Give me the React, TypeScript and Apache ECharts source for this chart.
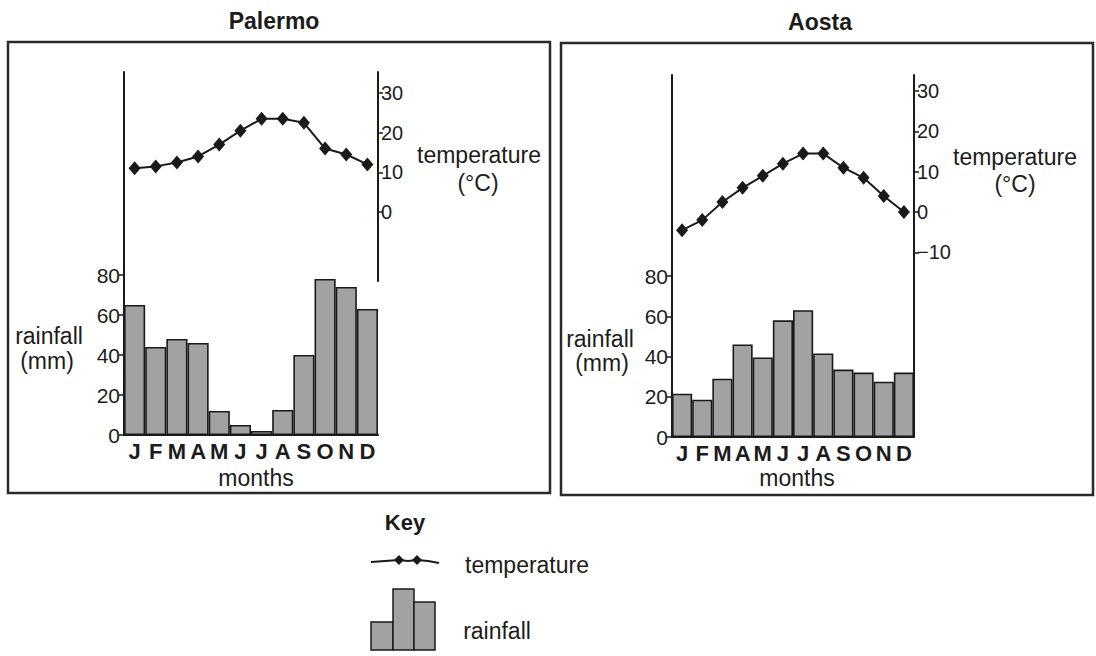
import React, { useEffect, useRef } from "react";
import * as echarts from "echarts";

const months = ["J", "F", "M", "A", "M", "J", "J", "A", "S", "O", "N", "D"];
const palermoRain = [65, 44, 48, 46, 12, 5, 2, 12.5, 40, 78, 74, 63];
const palermoTemp = [11, 11.5, 12.5, 14, 17, 20.5, 23.5, 23.5, 22.5, 16, 14.5, 12];
const aostaRain = [21.5, 18.5, 29, 46, 39.5, 58, 63, 41.5, 33.5, 32, 27.5, 32];
const aostaTemp = [-4.5, -2, 2.5, 6, 9, 12, 14.5, 14.5, 11, 8.5, 4, 0];
const rainTicks = [0, 20, 40, 60, 80];
const palermoTempTicks = [0, 10, 20, 30];
const aostaTempTicks = [-10, 0, 10, 20, 30];

const FONT = "'Liberation Sans', Arial, Helvetica, sans-serif";
const INK = "#1a1a1a";
const TEXT = "#1c1c1c";
const BAR = "#a2a2a2";

function rainY(gridIndex: number, max: number) {
  return {
    gridIndex,
    type: "value",
    position: "left",
    min: 0,
    max,
    axisLine: { show: true, lineStyle: { color: INK, width: 2 } },
    axisTick: { show: true, length: 5, customValues: rainTicks, lineStyle: { color: INK, width: 1.5 } },
    axisLabel: { customValues: rainTicks, fontSize: 21, color: TEXT, margin: 4, fontFamily: FONT },
    splitLine: { show: false },
  };
}

function tempY(gridIndex: number, min: number, max: number, ticks: number[]) {
  return {
    gridIndex,
    type: "value",
    position: "right",
    min,
    max,
    axisLine: { show: true, lineStyle: { color: INK, width: 2 } },
    axisTick: { show: true, length: 5, customValues: ticks, lineStyle: { color: INK, width: 1.5 } },
    axisLabel: {
      customValues: ticks,
      fontSize: 20,
      color: TEXT,
      margin: 3,
      fontFamily: FONT,
      formatter: (v: number) => (v < 0 ? "\u2212" + Math.abs(v) : String(v)),
    },
    splitLine: { show: false },
  };
}

function rainX(gridIndex: number) {
  return {
    gridIndex,
    type: "category",
    data: months,
    boundaryGap: true,
    axisLine: { show: true, lineStyle: { color: INK, width: 2 } },
    axisTick: { show: false },
    axisLabel: { interval: 0, fontWeight: "bold", fontSize: 22, margin: 5, color: TEXT, fontFamily: FONT },
  };
}

function tempX(gridIndex: number) {
  return { gridIndex, type: "category", data: months, boundaryGap: true, show: false };
}

function barSeries(idx: number, data: number[]) {
  return {
    type: "bar",
    xAxisIndex: idx,
    yAxisIndex: idx,
    data,
    barCategoryGap: "0%",
    itemStyle: { color: BAR, borderColor: INK, borderWidth: 1.6 },
    z: 2,
  };
}

function lineSeries(idx: number, data: number[]) {
  return {
    type: "line",
    xAxisIndex: idx,
    yAxisIndex: idx,
    data,
    symbol: "diamond",
    symbolSize: [12, 14],
    itemStyle: { color: INK },
    lineStyle: { color: INK, width: 2 },
    z: 5,
  };
}

function txt(text: string, x: number, y: number, size: number, bold = false) {
  return {
    type: "text",
    x,
    y,
    style: {
      text,
      fill: TEXT,
      font: `${bold ? "bold " : ""}${size}px ${FONT}`,
      textAlign: "center",
      textVerticalAlign: "middle",
    },
  };
}

function diamond(x: number, y: number) {
  return {
    type: "polygon",
    shape: { points: [[x, y - 5], [x + 5, y], [x, y + 5], [x - 5, y]] },
    style: { fill: INK },
  };
}

export default function App() {
  const ref = useRef<HTMLDivElement>(null);
  useEffect(() => {
    if (!ref.current) return;
    const chart = echarts.init(ref.current, null, { renderer: "svg" });
    const option = {
      animation: false,
      backgroundColor: "#ffffff",
      grid: [
        { left: 124, top: 72, width: 254, height: 363 },
        { left: 124, top: 72, width: 254, height: 209 },
        { left: 672, top: 75, width: 242, height: 362 },
        { left: 672, top: 75, width: 242, height: 362 },
      ],
      xAxis: [rainX(0), tempX(1), rainX(2), tempX(3)],
      yAxis: [
        rainY(0, 181.5),
        tempY(1, -17.4, 35.3, palermoTempTicks),
        rainY(2, 179.9),
        tempY(3, -55.8, 34, aostaTempTicks),
      ],
      series: [
        barSeries(0, palermoRain),
        lineSeries(1, palermoTemp),
        barSeries(2, aostaRain),
        lineSeries(3, aostaTemp),
      ],
      graphic: [
        { type: "rect", shape: { x: 8, y: 42, width: 542, height: 451 }, style: { fill: "none", stroke: "#2a2a2a", lineWidth: 2.5 } },
        { type: "rect", shape: { x: 561, y: 43, width: 532, height: 452 }, style: { fill: "none", stroke: "#2a2a2a", lineWidth: 2.5 } },
        txt("Palermo", 274, 21, 23, true),
        txt("Aosta", 820, 22, 23, true),
        txt("temperature", 479, 155, 23),
        txt("(°C)", 478, 183, 23),
        txt("temperature", 1015, 157, 23),
        txt("(°C)", 1015, 184, 23),
        txt("rainfall", 49, 336, 23),
        txt("(mm)", 47, 361, 23),
        txt("rainfall", 600, 339, 23),
        txt("(mm)", 602, 363, 23),
        txt("months", 256, 478, 23),
        txt("months", 797, 478, 23),
        txt("Key", 405, 522, 22, true),
        txt("temperature", 527, 565, 23),
        txt("rainfall", 497, 631, 23),
        { type: "polyline", shape: { points: [[371, 562], [385, 561], [399, 560], [408, 561], [417, 560], [428, 561], [439, 563]] }, style: { stroke: INK, lineWidth: 2, fill: "none" } },
        diamond(399, 560),
        diamond(417, 560),
        { type: "rect", shape: { x: 371, y: 622, width: 22, height: 28 }, style: { fill: BAR, stroke: INK, lineWidth: 1.5 } },
        { type: "rect", shape: { x: 393, y: 589, width: 21, height: 61 }, style: { fill: BAR, stroke: INK, lineWidth: 1.5 } },
        { type: "rect", shape: { x: 414, y: 602, width: 21, height: 48 }, style: { fill: BAR, stroke: INK, lineWidth: 1.5 } },
      ],
    };
    chart.setOption(option as any);
    return () => chart.dispose();
  }, []);
  return (
    <div
      ref={ref}
      style={{ position: "absolute", left: 0, top: 0, width: 1096, height: 656, background: "#fff" }}
    />
  );
}
